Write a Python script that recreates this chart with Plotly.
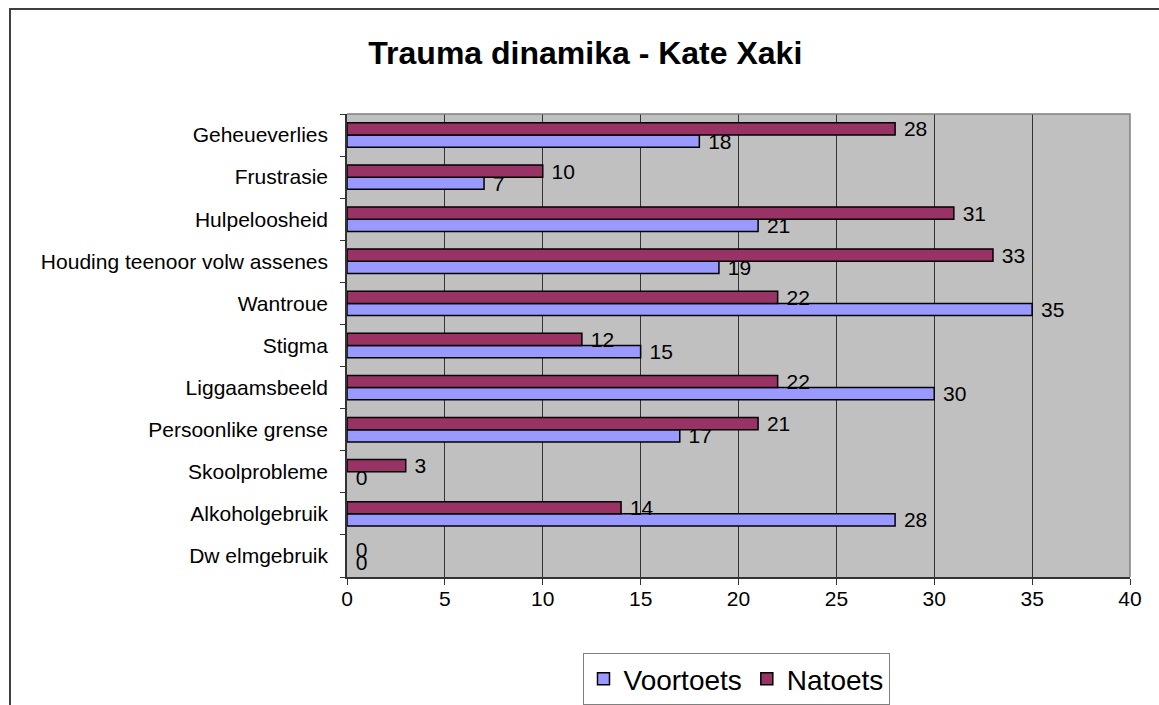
import plotly.graph_objects as go

categories = [
    "Geheueverlies", "Frustrasie", "Hulpeloosheid", "Houding teenoor volw assenes",
    "Wantroue", "Stigma", "Liggaamsbeeld", "Persoonlike grense", "Skoolprobleme",
    "Alkoholgebruik", "Dw elmgebruik",
]
voortoets = [18, 7, 21, 19, 35, 15, 30, 17, 0, 28, 0]
natoets = [28, 10, 31, 33, 22, 12, 22, 21, 3, 14, 0]
x_ticks = [0, 5, 10, 15, 20, 25, 30, 35, 40]

FONT = "Liberation Sans, Arial, sans-serif"


def edge_widths(vals):
    return [1.5 if v else 0 for v in vals]


fig = go.Figure()
fig.add_trace(go.Bar(
    name="Voortoets", y=categories, x=voortoets, orientation="h",
    marker=dict(color="#9999FF", line=dict(color="#000000", width=edge_widths(voortoets))),
    text=voortoets, texttemplate=" %{x}", textposition="outside",
    textfont=dict(family=FONT, size=21, color="#000"), constraintext="none",
    cliponaxis=False,
))
fig.add_trace(go.Bar(
    name="Natoets", y=categories, x=natoets, orientation="h",
    marker=dict(color="#993366", line=dict(color="#000000", width=edge_widths(natoets))),
    text=natoets, texttemplate=" %{x}", textposition="outside",
    textfont=dict(family=FONT, size=21, color="#000"), constraintext="none",
    cliponaxis=False,
))

fig.update_layout(
    width=1159, height=705, autosize=False,
    margin=dict(l=347, r=29, t=114, b=128),
    paper_bgcolor="white", plot_bgcolor="#C0C0C0",
    font=dict(family=FONT, size=21, color="#000"),
    barmode="group", bargap=0.42, bargroupgap=0,
    title=dict(text="<b>Trauma dinamika - Kate Xaki</b>", font=dict(size=32, family=FONT, color="#000"),
               x=0.505, xref="container", xanchor="center",
               y=1 - 53 / 705, yref="container", yanchor="middle"),
    legend=dict(orientation="h", xref="container", yref="container",
                x=736 / 1159, xanchor="center", y=1 - 653 / 705, yanchor="top",
                font=dict(size=28, family=FONT), bgcolor="white",
                bordercolor="#808080", borderwidth=1, traceorder="normal"),
    xaxis=dict(range=[0, 40], tickvals=x_ticks, showgrid=True, gridcolor="#333333", gridwidth=1,
               zeroline=False, showline=True, linecolor="#333333", linewidth=1.5,
               ticks="outside", ticklen=6, tickcolor="#333333", tickfont=dict(size=21),
               ticklabelstandoff=-4, automargin=False),
    yaxis=dict(categoryorder="array", categoryarray=categories[::-1],
               showgrid=False, zeroline=False, showline=True, linecolor="#333333", linewidth=1.5,
               ticks="outside", tickson="boundaries", ticklen=5, tickcolor="#333333",
               tickfont=dict(size=21), ticklabelstandoff=13, automargin=False),
    shapes=[
        dict(type="path", xref="paper", yref="paper", path="M 0,1 L 1,1 L 1,0",
             line=dict(color="#808080", width=1.5), layer="above"),
        dict(type="path", xref="paper", yref="paper",
             path="M -0.4304,-0.5 L -0.4304,1.2268 L 1.2,1.2268",
             line=dict(color="#404040", width=2), layer="above"),
    ],
)

fig.write_html("out.html", config={"displayModeBar": False},
               post_script="document.body.style.margin='0';")
